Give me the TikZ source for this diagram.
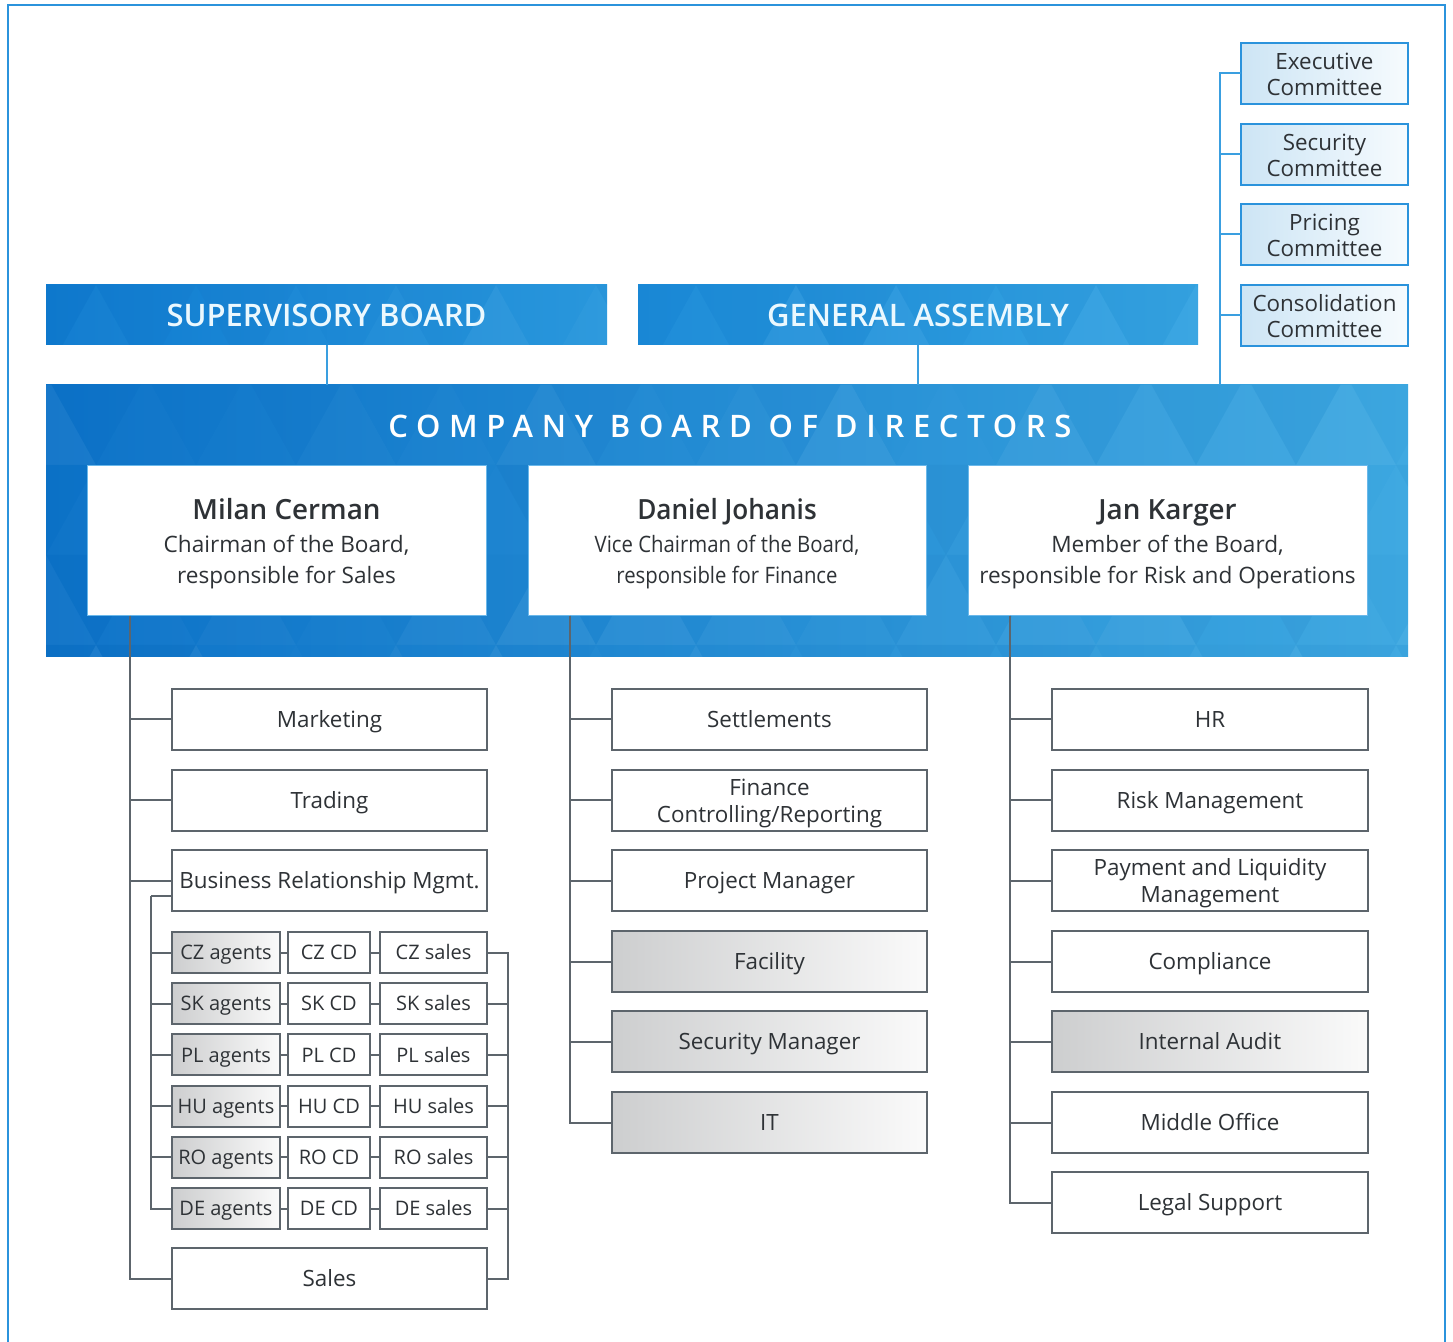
\documentclass[tikz,border=0pt]{standalone}
\usepackage{fontspec}
\setmainfont{Open Sans}
\newfontfamily\sbfont{Open Sans Semibold}
\newfontfamily\ttlfont{Open Sans Semibold}[LetterSpace=28]
\newfontfamily\dnfont{Open Sans}[FakeStretch=0.9]
\newfontfamily\dnsb{Open Sans Semibold}[FakeStretch=0.94]
\usetikzlibrary{calc}
\definecolor{txt}{HTML}{2E3236}
\definecolor{lin}{HTML}{5D656C}
\definecolor{fr}{HTML}{2B93DC}
\definecolor{bconn}{HTML}{3A9FE0}
\definecolor{gl}{HTML}{CDCECF}
\definecolor{gr}{HTML}{FAFAFA}
\definecolor{cl}{HTML}{CDE5F5}
\definecolor{cr}{HTML}{F6FBFE}
\definecolor{sbl}{HTML}{0F7BD0}
\definecolor{sbr}{HTML}{2A98DD}
\definecolor{gal}{HTML}{1A8AD8}
\definecolor{gar}{HTML}{35A4E2}
\definecolor{cbl}{HTML}{0C72C8}
\definecolor{cbr}{HTML}{3DA8E1}
\definecolor{pb}{HTML}{6BB8EA}
\definecolor{tri}{HTML}{0A4F9A}
\newcommand{\obox}[7]{\node[#6, minimum width={(#4-#2)*0.5pt}, minimum height={(#5-#3)*0.5pt}] (#1) at ({(#2+#4)/2},{(#3+#5)/2}) {#7};}
\newcommand{\up}[1]{\rule{0pt}{#1}}
\tikzset{
  box/.style={draw=lin, line width=1pt, fill=white, inner sep=0pt, outer sep=0pt, text=txt, align=center,
    font=\fontsize{11.2}{13.5}\selectfont},
  sbox/.style={box, text height=8pt, text depth=0pt},
  gbox/.style={sbox, left color=gl, right color=gr},
  grid/.style={sbox, font=\fontsize{10}{12}\selectfont, text height=7.1pt},
  ggrid/.style={grid, left color=gl, right color=gr},
  cbox/.style={box, draw=fr, left color=cl, right color=cr, font=\fontsize{11.2}{13}\selectfont},
  pbox/.style={draw=pb, line width=0.5pt, fill=white, inner sep=0pt, outer sep=0pt, text=txt, align=center,
    font=\fontsize{11.3}{15.5}\selectfont},
  hdr/.style={inner sep=0pt, outer sep=0pt, text=white!92!cyan, font=\sbfont\fontsize{15.5}{18}\selectfont},
  conn/.style={draw=lin, line width=1pt},
  bline/.style={draw=bconn, line width=1pt},
}
\begin{document}
\begin{tikzpicture}[x=0.5pt,y=-0.5pt]
\useasboundingbox (0,0) rectangle (1453,1342);
\fill[white] (0,0) rectangle (1453,1342);
\draw[fr, line width=0.8pt] (8,1360) -- (8,5) -- (1445,5) -- (1445,1360);

% blue boards: fills and faint triangle texture
\shade[left color=sbl, right color=sbr] (46,285) rectangle (607,345);
\shade[left color=gal, right color=gar] (638,285) rectangle (1198,345);
\shade[left color=cbl, right color=cbr] (46,385) rectangle (1408,657);
\begin{scope}
\clip (46,285) rectangle (607,345) (638,285) rectangle (1198,345) (46,385) rectangle (1408,657);
\pgfmathsetseed{11}
\foreach \r in {0,...,4}{
  \foreach \k in {-1,...,14}{
    \pgfmathsetmacro\xa{46+\k*100+mod(\r,2)*50}
    \pgfmathsetmacro\yt{285+\r*90}
    \pgfmathsetmacro\yb{\yt+90}
    \pgfmathsetmacro\oa{rnd*0.06}
    \pgfmathsetmacro\ob{rnd*0.07}
    \fill[white, opacity=\oa] (\xa,\yb) -- (\xa+100,\yb) -- (\xa+50,\yt) -- cycle;
    \fill[tri, opacity=\ob] (\xa+50,\yt) -- (\xa+150,\yt) -- (\xa+100,\yb) -- cycle;
  }
}
\end{scope}

% top boards
\obox{sb}{46}{285}{607}{345}{hdr}{SUPERVISORY BOARD}
\obox{ga}{638}{285}{1198}{345}{hdr}{GENERAL ASSEMBLY}
\obox{cbd}{46}{385}{1408}{657}{inner sep=0pt, outer sep=0pt}{}
\node[inner sep=0pt, text=white, font=\ttlfont\fontsize{15.5}{18}\selectfont] (ttl) at (730,426) {COMPANY BOARD OF DIRECTORS};

% committees
\obox{exe}{1241}{43}{1408}{104}{cbox}{\up{9.5pt}Executive\\Committee}
\obox{sec}{1241}{124}{1408}{185}{cbox}{\up{9.5pt}Security\\Committee}
\obox{pri}{1241}{204}{1408}{265}{cbox}{\up{9.5pt}Pricing\\Committee}
\obox{con}{1241}{285}{1408}{346}{cbox}{\up{9.5pt}Consolidation\\Committee}

\draw[bline] (sb.south) -- (sb.south |- cbd.north);
\draw[bline] (ga.south) -- (ga.south |- cbd.north);
\coordinate (k1) at ($(cbd.north east)+(-188,0)$);
\draw[bline] (k1) |- (exe.west);
\draw[bline] (k1) |- (sec.west);
\draw[bline] (k1) |- (pri.west);
\draw[bline] (k1) |- (con.west);

% persons
\obox{mil}{87}{466}{486}{616}{pbox}{{\sbfont\fontsize{13.9}{17}\selectfont\up{12.8pt}Milan Cerman}\\[1pt]Chairman of the Board,\\responsible for Sales}
\obox{dan}{528}{466}{926}{616}{pbox}{{\dnsb\fontsize{13.9}{17}\selectfont\up{12.8pt}Daniel Johanis}\\[1pt]{\dnfont Vice Chairman of the Board,}\\{\dnfont responsible for Finance}}
\obox{jan}{968}{466}{1367}{616}{pbox}{{\sbfont\fontsize{13.9}{17}\selectfont\up{12.8pt}Jan Karger}\\[1pt]Member of the Board,\\responsible for Risk and Operations}

% column 1
\obox{mkt}{172}{689}{487}{750}{sbox}{Marketing}
\obox{trd}{172}{770}{487}{831}{sbox}{Trading}
\obox{brm}{172}{850}{487}{911}{sbox}{Business Relationship Mgmt.}
\obox{sal}{172}{1248}{487}{1309}{sbox}{Sales}
\foreach \c/\n [count=\i from 0] in {cz/CZ,sk/SK,pl/PL,hu/HU,ro/RO,de/DE}{
  \pgfmathsetmacro\yt{932+51.2*\i}
  \pgfmathsetmacro\yb{\yt+41}
  \obox{\c a}{172}{\yt}{280}{\yb}{ggrid}{\n\ agents}
  \obox{\c c}{288}{\yt}{370}{\yb}{grid}{\n\ CD}
  \obox{\c s}{380}{\yt}{487}{\yb}{grid}{\n\ sales}
  \draw[conn] (\c a.east) -- (\c c.west);
  \draw[conn] (\c c.east) -- (\c s.west);
}
\coordinate (m1) at ($(mil.south west)+(43,0)$);
\foreach \t in {mkt,trd,brm,sal}{\draw[conn] (m1) |- (\t.west);}
\coordinate (b1) at ($(brm.west)+(-21,15)$);
\draw[conn] ($(brm.west)+(0,15)$) -- (b1);
\foreach \c in {cz,sk,pl,hu,ro,de}{\draw[conn] (b1) |- (\c a.west);}
\coordinate (r1) at ($(czs.east)+(21,0)$);
\draw[conn] (czs.east) -- (r1) |- (sal.east);
\foreach \c in {sk,pl,hu,ro,de}{\draw[conn] (r1) |- (\c s.east);}

% column 2
\obox{set}{612}{689}{927}{750}{sbox}{Settlements}
\obox{fin}{612}{770}{927}{831}{box}{\up{11.5pt}Finance\\Controlling/Reporting}
\obox{prj}{612}{850}{927}{911}{sbox}{Project Manager}
\obox{fac}{612}{931}{927}{992}{gbox}{Facility}
\obox{smg}{612}{1011}{927}{1072}{gbox}{Security Manager}
\obox{it}{612}{1092}{927}{1153}{gbox}{IT}
\coordinate (d1) at ($(dan.south west)+(42,0)$);
\foreach \t in {set,fin,prj,fac,smg,it}{\draw[conn] (d1) |- (\t.west);}

% column 3
\obox{hr}{1052}{689}{1368}{750}{sbox}{HR}
\obox{rsk}{1052}{770}{1368}{831}{sbox}{Risk Management}
\obox{pay}{1052}{850}{1368}{911}{box}{\up{11.5pt}Payment and Liquidity\\Management}
\obox{cmp}{1052}{931}{1368}{992}{sbox}{Compliance}
\obox{aud}{1052}{1011}{1368}{1072}{gbox}{Internal Audit}
\obox{mid}{1052}{1092}{1368}{1153}{sbox}{Middle Office}
\obox{leg}{1052}{1172}{1368}{1233}{sbox}{Legal Support}
\coordinate (j1) at ($(jan.south west)+(42,0)$);
\foreach \t in {hr,rsk,pay,cmp,aud,mid,leg}{\draw[conn] (j1) |- (\t.west);}
\end{tikzpicture}
\end{document}
